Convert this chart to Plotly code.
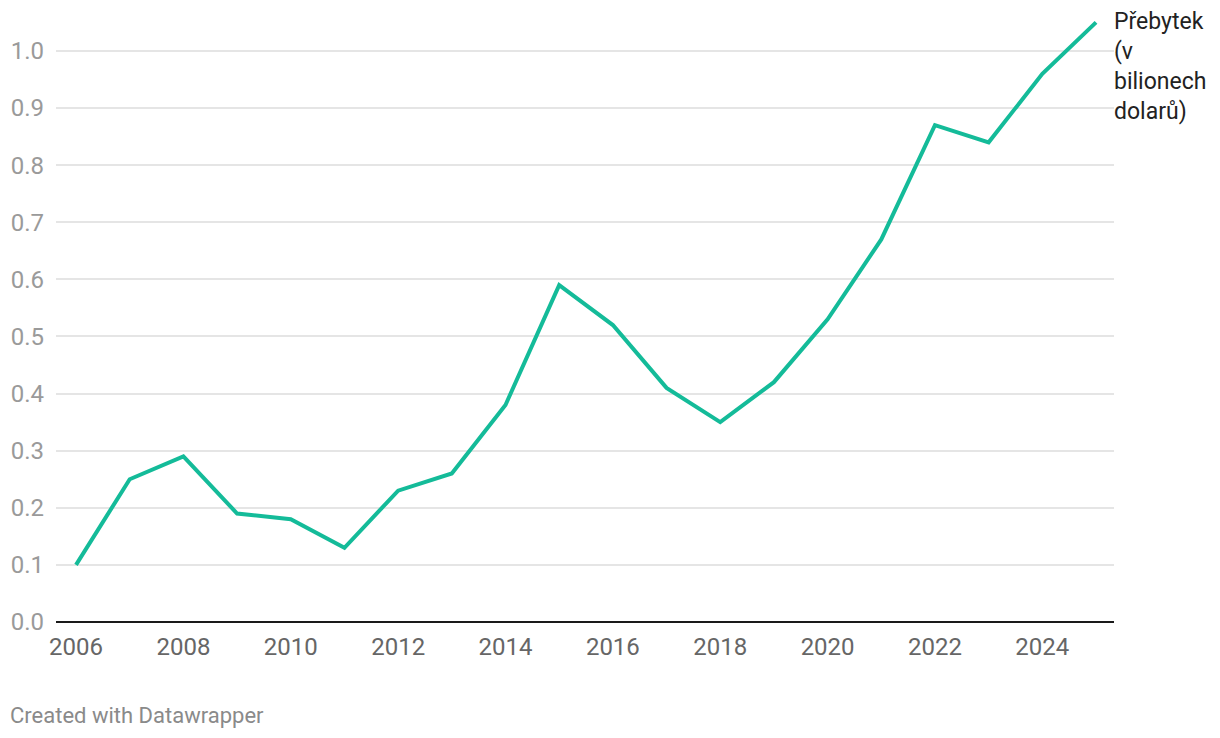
import plotly.graph_objects as go

years = list(range(2006, 2026))
surplus = [0.10, 0.25, 0.29, 0.19, 0.18, 0.13, 0.23, 0.26, 0.38, 0.59,
           0.52, 0.41, 0.35, 0.42, 0.53, 0.67, 0.87, 0.84, 0.96, 1.05]
series_label = "Přebytek<br>(v<br>bilionech<br>dolarů)"
x_ticks = [2006, 2008, 2010, 2012, 2014, 2016, 2018, 2020, 2022, 2024]
y_ticks = [0.0, 0.1, 0.2, 0.3, 0.4, 0.5, 0.6, 0.7, 0.8, 0.9, 1.0]

fig = go.Figure()
fig.add_trace(go.Scatter(
    x=years, y=surplus, mode="lines",
    line=dict(color="#14bb99", width=4),
    hoverinfo="x+y", showlegend=False,
))

fig.add_annotation(
    x=1, xref="paper", xanchor="left", xshift=-2,
    y=1, yref="paper", yanchor="top", yshift=9,
    text=series_label, showarrow=False, align="left",
    font=dict(family="Roboto", size=23, color="#222222"),
)
fig.add_annotation(
    x=0, xref="paper", xanchor="left", xshift=-48,
    y=0, yref="paper", yanchor="top", yshift=-79,
    text="Created with Datawrapper", showarrow=False, align="left",
    font=dict(family="Roboto", size=22, color="#8a8a8a"),
)

fig.update_layout(
    width=1220, height=738,
    margin=dict(l=48, r=114, t=7, b=124),
    plot_bgcolor="white", paper_bgcolor="white",
    font=dict(family="Roboto"),
    xaxis=dict(
        range=[2005.627, 2025.335], tickvals=x_ticks,
        showgrid=False, zeroline=False, showline=False,
        tickfont=dict(size=24, color="#666666"),
        ticks="", ticklabelstandoff=8, automargin=False,
    ),
    yaxis=dict(
        range=[0, 1.063], tickvals=y_ticks, tickformat=".1f",
        showgrid=True, gridcolor="#e5e5e5", gridwidth=1.5,
        zeroline=True, zerolinecolor="#1a1a1a", zerolinewidth=2,
        showline=False,
        tickfont=dict(size=24, color="#9a9a9a"),
        ticks="", ticklabelstandoff=11, automargin=False,
    ),
)

fig.write_html("out.html")
